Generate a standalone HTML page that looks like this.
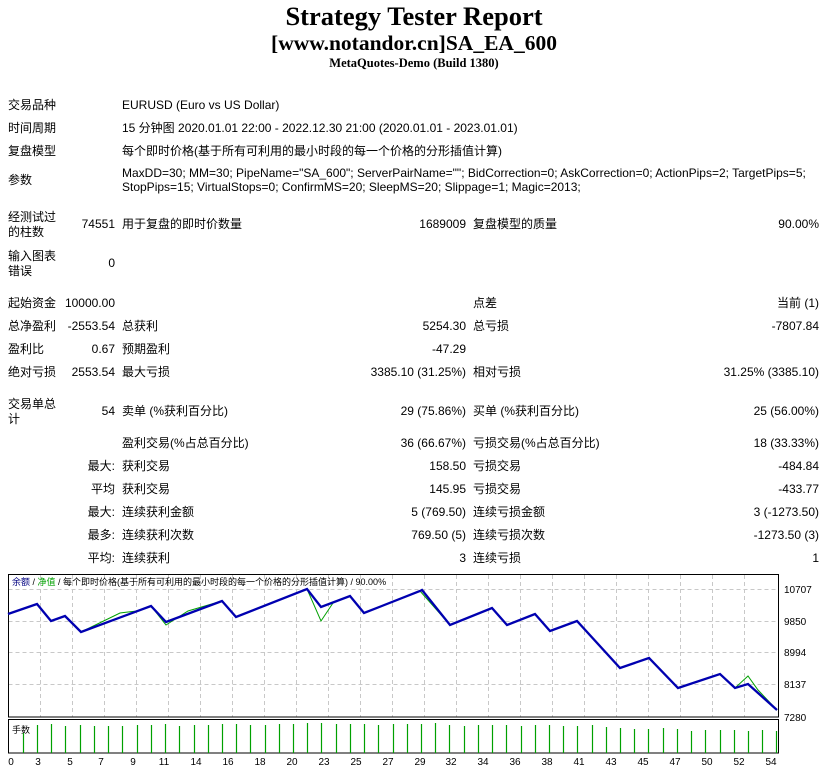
<!DOCTYPE html>
<html><head><meta charset="utf-8">
<style>
body{margin:0;width:840px;height:773px;background:#fff;position:relative;overflow:hidden;font-family:"Liberation Sans","Noto Sans CJK SC",sans-serif;font-size:12px;color:#000}
.t{position:absolute;white-space:nowrap;line-height:15px}
.r{text-align:right}
.h{position:absolute;left:0;width:828px;text-align:center;font-family:"Liberation Serif","Noto Serif CJK SC",serif;font-weight:bold;white-space:nowrap}
</style></head><body>
<div class="h" style="top:1px;font-size:26.5px">Strategy Tester Report</div>
<div class="h" style="top:31px;font-size:21.5px">[www.notandor.cn]SA_EA_600</div>
<div class="h" style="top:56px;font-size:12.5px">MetaQuotes-Demo (Build 1380)</div>

<div class="t" style="left:8px;top:98px">交易品种</div>
<div class="t" style="left:122px;top:98px">EURUSD (Euro vs US Dollar)</div>
<div class="t" style="left:8px;top:121px">时间周期</div>
<div class="t" style="left:122px;top:121px">15 分钟图 2020.01.01 22:00 - 2022.12.30 21:00 (2020.01.01 - 2023.01.01)</div>
<div class="t" style="left:8px;top:144px">复盘模型</div>
<div class="t" style="left:122px;top:144px">每个即时价格(基于所有可利用的最小时段的每一个价格的分形插值计算)</div>
<div class="t" style="left:8px;top:173px">参数</div>
<div class="t" style="left:122px;top:166px">MaxDD=30; MM=30; PipeName="SA_600"; ServerPairName=""; BidCorrection=0; AskCorrection=0; ActionPips=2; TargetPips=5;</div>
<div class="t" style="left:122px;top:180px">StopPips=15; VirtualStops=0; ConfirmMS=20; SleepMS=20; Slippage=1; Magic=2013;</div>

<div class="t" style="left:8px;top:210px">经测试过</div>
<div class="t" style="left:8px;top:225px">的柱数</div>
<div class="t r" style="left:40px;width:75px;top:217px">74551</div>
<div class="t" style="left:122px;top:217px">用于复盘的即时价数量</div>
<div class="t r" style="left:300px;width:166px;top:217px">1689009</div>
<div class="t" style="left:473px;top:217px">复盘模型的质量</div>
<div class="t r" style="left:600px;width:219px;top:217px">90.00%</div>

<div class="t" style="left:8px;top:249px">输入图表</div>
<div class="t" style="left:8px;top:264px">错误</div>
<div class="t r" style="left:40px;width:75px;top:256px">0</div>

<div class="t" style="left:8px;top:296px">起始资金</div>
<div class="t r" style="left:40px;width:75px;top:296px">10000.00</div>
<div class="t" style="left:473px;top:296px">点差</div>
<div class="t r" style="left:600px;width:219px;top:296px">当前 (1)</div>

<div class="t" style="left:8px;top:319px">总净盈利</div>
<div class="t r" style="left:40px;width:75px;top:319px">-2553.54</div>
<div class="t" style="left:122px;top:319px">总获利</div>
<div class="t r" style="left:300px;width:166px;top:319px">5254.30</div>
<div class="t" style="left:473px;top:319px">总亏损</div>
<div class="t r" style="left:600px;width:219px;top:319px">-7807.84</div>

<div class="t" style="left:8px;top:342px">盈利比</div>
<div class="t r" style="left:40px;width:75px;top:342px">0.67</div>
<div class="t" style="left:122px;top:342px">预期盈利</div>
<div class="t r" style="left:300px;width:166px;top:342px">-47.29</div>

<div class="t" style="left:8px;top:365px">绝对亏损</div>
<div class="t r" style="left:40px;width:75px;top:365px">2553.54</div>
<div class="t" style="left:122px;top:365px">最大亏损</div>
<div class="t r" style="left:300px;width:166px;top:365px">3385.10 (31.25%)</div>
<div class="t" style="left:473px;top:365px">相对亏损</div>
<div class="t r" style="left:600px;width:219px;top:365px">31.25% (3385.10)</div>

<div class="t" style="left:8px;top:397px">交易单总</div>
<div class="t" style="left:8px;top:412px">计</div>
<div class="t r" style="left:40px;width:75px;top:404px">54</div>
<div class="t" style="left:122px;top:404px">卖单 (%获利百分比)</div>
<div class="t r" style="left:300px;width:166px;top:404px">29 (75.86%)</div>
<div class="t" style="left:473px;top:404px">买单 (%获利百分比)</div>
<div class="t r" style="left:600px;width:219px;top:404px">25 (56.00%)</div>

<div class="t" style="left:122px;top:436px">盈利交易(%占总百分比)</div>
<div class="t r" style="left:300px;width:166px;top:436px">36 (66.67%)</div>
<div class="t" style="left:473px;top:436px">亏损交易(%占总百分比)</div>
<div class="t r" style="left:600px;width:219px;top:436px">18 (33.33%)</div>

<div class="t r" style="left:40px;width:75px;top:459px">最大:</div>
<div class="t" style="left:122px;top:459px">获利交易</div>
<div class="t r" style="left:300px;width:166px;top:459px">158.50</div>
<div class="t" style="left:473px;top:459px">亏损交易</div>
<div class="t r" style="left:600px;width:219px;top:459px">-484.84</div>

<div class="t r" style="left:40px;width:75px;top:482px">平均</div>
<div class="t" style="left:122px;top:482px">获利交易</div>
<div class="t r" style="left:300px;width:166px;top:482px">145.95</div>
<div class="t" style="left:473px;top:482px">亏损交易</div>
<div class="t r" style="left:600px;width:219px;top:482px">-433.77</div>

<div class="t r" style="left:40px;width:75px;top:505px">最大:</div>
<div class="t" style="left:122px;top:505px">连续获利金额</div>
<div class="t r" style="left:300px;width:166px;top:505px">5 (769.50)</div>
<div class="t" style="left:473px;top:505px">连续亏损金额</div>
<div class="t r" style="left:600px;width:219px;top:505px">3 (-1273.50)</div>

<div class="t r" style="left:40px;width:75px;top:528px">最多:</div>
<div class="t" style="left:122px;top:528px">连续获利次数</div>
<div class="t r" style="left:300px;width:166px;top:528px">769.50 (5)</div>
<div class="t" style="left:473px;top:528px">连续亏损次数</div>
<div class="t r" style="left:600px;width:219px;top:528px">-1273.50 (3)</div>

<div class="t r" style="left:40px;width:75px;top:551px">平均:</div>
<div class="t" style="left:122px;top:551px">连续获利</div>
<div class="t r" style="left:300px;width:166px;top:551px">3</div>
<div class="t" style="left:473px;top:551px">连续亏损</div>
<div class="t r" style="left:600px;width:219px;top:551px">1</div>

<svg style="position:absolute;left:0;top:0" width="840" height="773" xmlns="http://www.w3.org/2000/svg">
<g stroke="#c8c8c8" stroke-dasharray="4,3" stroke-width="1">
<path d="M8.5 589.5H779M8.5 621.5H779M8.5 652.5H779M8.5 684.5H779"/>
<path d="M40.5 575V717M72.5 575V717M104.5 575V717M136.5 575V717M168.5 575V717M200.5 575V717M232.5 575V717M264.5 575V717M296.5 575V717M328.5 575V717M360.5 575V717M392.5 575V717M424.5 575V717M456.5 575V717M488.5 575V717M520.5 575V717M552.5 575V717M584.5 575V717M616.5 575V717M648.5 575V717M680.5 575V717M712.5 575V717M744.5 575V717"/>
</g>
<rect x="8.5" y="574.5" width="770" height="142.5" fill="none" stroke="#000"/>
<rect x="8.5" y="719.5" width="770" height="33.5" fill="none" stroke="#000"/>
<text x="12" y="585" font-size="9" font-family="Liberation Sans,Noto Sans CJK SC,sans-serif"><tspan fill="#000080">余额</tspan> / <tspan fill="#00a000">净值</tspan> / 每个即时价格(基于所有可利用的最小时段的每一个价格的分形插值计算) / 90.00%</text>
<polyline fill="none" stroke="#00a000" stroke-width="1" points="8,614 37,604 51,621 65,616 81,632 120,613 137,611 151,606 166,625 188,611 222,601 236,617 307,589 321,621 333,603 350,596 364,613 420,591 450,625 492,608 507,625 535,614 550,631 577,621 620,668 649,658 678,688 720,674 735,688 748,676 758,690 777,710"/>
<polyline fill="none" stroke="#0000b0" stroke-width="2.3" points="8,614 37,604 51,621 65,616 81,632 151,606 166,622 222,601 236,617 307,589 321,607 350,596 364,613 420,591 422,590 450,625 492,608 507,625 535,614 550,631 577,621 620,668 649,658 678,688 720,674 735,688 748,684 777,710"/>
<g font-size="10" font-family="Liberation Sans,sans-serif">
<text x="784" y="593">10707</text><text x="784" y="625">9850</text><text x="784" y="656">8994</text><text x="784" y="688">8137</text><text x="784" y="721">7280</text>
</g>
<text x="12" y="733" font-size="9" font-family="Liberation Sans,Noto Sans CJK SC,sans-serif">手数</text>
<g font-size="10" font-family="Liberation Sans,sans-serif" text-anchor="middle">
<text x="11" y="765">0</text><text x="38" y="765">3</text><text x="70" y="765">5</text><text x="101" y="765">7</text><text x="133" y="765">9</text><text x="164" y="765">11</text><text x="196" y="765">14</text><text x="228" y="765">16</text><text x="260" y="765">18</text><text x="292" y="765">20</text><text x="324" y="765">23</text><text x="356" y="765">25</text><text x="388" y="765">27</text><text x="420" y="765">29</text><text x="451" y="765">32</text><text x="483" y="765">34</text><text x="515" y="765">36</text><text x="547" y="765">38</text><text x="579" y="765">41</text><text x="611" y="765">43</text><text x="643" y="765">45</text><text x="675" y="765">47</text><text x="707" y="765">50</text><text x="739" y="765">52</text><text x="771" y="765">54</text>
</g>
<path stroke="#00a000" stroke-width="1.2" fill="none" d="M23.5 733V753M37.5 725V753M51.5 724V753M65.5 726V753M80.5 725V753M94.5 726V753M108.5 726V753M122.5 726V753M137.5 725V753M151.5 725V753M165.5 724V753M179.5 726V753M194.5 725V753M208.5 725V753M222.5 724V753M236.5 724V753M250.5 725V753M265.5 725V753M279.5 724V753M293.5 724V753M307.5 723V753M321.5 723V753M336.5 724V753M350.5 724V753M364.5 724V753M378.5 725V753M393.5 724V753M407.5 724V753M421.5 724V753M435.5 723V753M449.5 725V753M464.5 726V753M478.5 725V753M492.5 725V753M506.5 725V753M521.5 726V753M535.5 725V753M549.5 725V753M563.5 726V753M577.5 726V753M592.5 725V753M606.5 727V753M620.5 728V753M634.5 729V753M648.5 729V753M663.5 728V753M677.5 729V753M691.5 731V753M705.5 730V753M720.5 730V753M734.5 730V753M748.5 731V753M762.5 730V753M776.5 731V753"/>
</svg>
</body></html>
